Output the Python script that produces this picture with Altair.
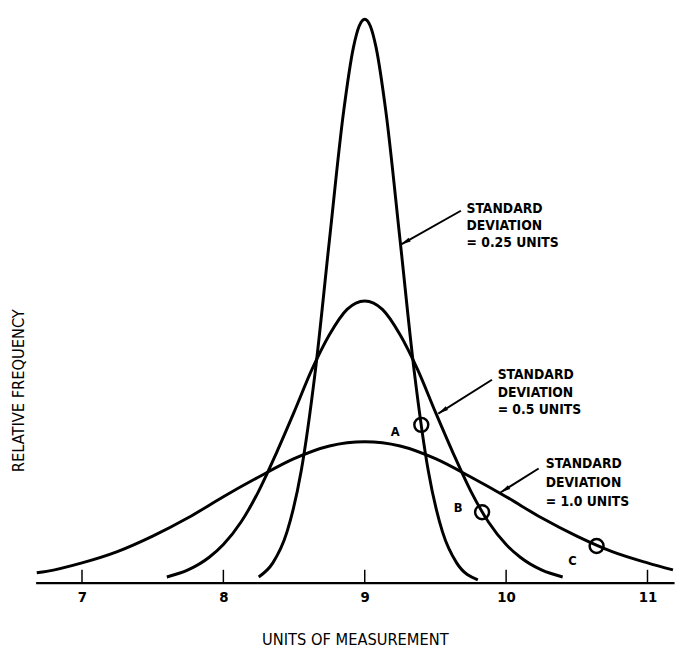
import math
import altair as alt
import pandas as pd

# ---- data (relative frequency, SD=1.0 peak = 1) ----
sd100_x = [6.68, 6.75, 7.0, 7.25, 7.5, 7.75, 8.0, 8.25, 8.5, 8.75, 9.0,
           9.25, 9.5, 9.75, 10.0, 10.25, 10.5, 10.75, 11.0, 11.18]
sd100_y = [0.07, 0.08, 0.14, 0.22, 0.33, 0.46, 0.61, 0.75, 0.88, 0.97, 1.00,
           0.97, 0.88, 0.75, 0.61, 0.46, 0.33, 0.22, 0.14, 0.09]

sd050_x = [7.6, 7.75, 7.9, 8.0, 8.125, 8.25, 8.375, 8.5, 8.625, 8.75, 8.875, 9.0,
           9.125, 9.25, 9.375, 9.5, 9.625, 9.75, 9.875, 10.0, 10.1, 10.25, 10.4]
sd050_y = [0.04, 0.09, 0.18, 0.27, 0.43, 0.65, 0.92, 1.21, 1.51, 1.76, 1.94, 2.00,
           1.94, 1.76, 1.51, 1.21, 0.92, 0.65, 0.43, 0.27, 0.18, 0.09, 0.04]

sd025_x = [8.25, 8.35, 8.45, 8.55, 8.65, 8.75, 8.85, 8.92, 8.96, 9.0,
           9.04, 9.08, 9.15, 9.25, 9.35, 9.45, 9.55, 9.65, 9.8]
sd025_y = [0.04, 0.14, 0.36, 0.79, 1.50, 2.43, 3.34, 3.80, 3.95, 4.00,
           3.95, 3.80, 3.34, 2.43, 1.50, 0.79, 0.36, 0.14, 0.02]

point_names = ["A", "B", "C"]
point_x = [9.40, 9.83, 10.64]
point_y = [1.12, 0.50, 0.26]

tick_values = [7, 8, 9, 10, 11]

label_lines = [["STANDARD", "DEVIATION", "= 0.25 UNITS"],
               ["STANDARD", "DEVIATION", "= 0.5 UNITS"],
               ["STANDARD", "DEVIATION", "= 1.0 UNITS"]]

# ---- layout ----
PLOT_W, PLOT_H = 647, 575
X_DOM = [6.672, 6.672 + PLOT_W / 143.27]
Y_DOM = [0, 4.028]
PX_X = PLOT_W / (X_DOM[1] - X_DOM[0])
PX_Y = PLOT_H / (Y_DOM[1] - Y_DOM[0])
FONT = "DejaVu Sans Condensed, DejaVu Sans"

# annotation placement (data units)
label_pos = [(9.72, [2.655, 2.532, 2.409]),
             (9.94, [1.471, 1.348, 1.226]),
             (10.28, [0.841, 0.708, 0.574])]
arrow_pos = [((9.68, 2.64), (9.255, 2.40)),
             ((9.90, 1.44), (9.52, 1.20)),
             ((10.23, 0.81), (9.96, 0.64))]
letter_pos = [(9.215, 1.07), (9.66, 0.53), (10.47, 0.15)]

curves = pd.concat([
    pd.DataFrame({"x": sd100_x, "y": sd100_y, "sd": "1.0"}),
    pd.DataFrame({"x": sd050_x, "y": sd050_y, "sd": "0.5"}),
    pd.DataFrame({"x": sd025_x, "y": sd025_y, "sd": "0.25"}),
])
points = pd.DataFrame({"name": point_names, "x": point_x, "y": point_y})
letters = pd.DataFrame({"name": point_names,
                        "x": [p[0] for p in letter_pos],
                        "y": [p[1] for p in letter_pos]})
ticks = pd.DataFrame({"x": tick_values})

txt_rows = []
for lines, (lx, lys) in zip(label_lines, label_pos):
    for t, ly in zip(lines, lys):
        txt_rows.append({"x": lx, "y": ly, "t": t})
texts = pd.DataFrame(txt_rows)

arr_rows = []
for (a, b) in arrow_pos:
    dx = (b[0] - a[0]) * PX_X
    dy = -(b[1] - a[1]) * PX_Y
    ang = math.degrees(math.atan2(dx, -dy)) % 360
    arr_rows.append({"x": a[0], "y": a[1], "x2": b[0], "y2": b[1], "ang": ang})
arrows = pd.DataFrame(arr_rows)

xscale = alt.Scale(domain=X_DOM, nice=False, zero=False)
yscale = alt.Scale(domain=Y_DOM, nice=False, zero=False)
xaxis = alt.Axis(values=tick_values, format="d", ticks=False, grid=False,
                 domainColor="black", domainWidth=2.5,
                 labelFont=FONT, labelFontSize=15, labelFontWeight="bold",
                 labelPadding=7, labelColor="black",
                 title="UNITS OF MEASUREMENT", titleFont=FONT, titleFontSize=16.5,
                 titleFontWeight="normal", titlePadding=28, titleColor="black")
yaxis = alt.Axis(labels=False, ticks=False, domain=False, grid=False,
                 title="RELATIVE FREQUENCY", titleFont=FONT, titleFontSize=16.5,
                 titleFontWeight="normal", titleColor="black",
                 titleX=-17, titleY=380, titleAngle=270,
                 titleAlign="center", titleBaseline="middle")


def X(f="x"):
    return alt.X(f"{f}:Q", scale=xscale, axis=xaxis)


def Y(f="y"):
    return alt.Y(f"{f}:Q", scale=yscale, axis=yaxis)


curve_layer = alt.Chart(curves).mark_line(
    color="black", strokeWidth=3, interpolate="monotone"
).encode(x=X(), y=Y(), detail="sd:N")

tick_layer = alt.Chart(ticks).mark_rule(color="black", strokeWidth=1.5).encode(
    x=X(), y=alt.value(PLOT_H - 13), y2=alt.value(PLOT_H)
)

circle_layer = alt.Chart(points).mark_point(
    shape="circle", filled=False, size=200, strokeWidth=2.5, color="black", opacity=1
).encode(x=X(), y=Y())

letter_layer = alt.Chart(letters).mark_text(
    font=FONT, fontSize=13, fontWeight="bold", color="black",
    align="center", baseline="middle"
).encode(x=X(), y=Y(), text="name:N")

text_layer = alt.Chart(texts).mark_text(
    font=FONT, fontSize=14, fontWeight="bold", color="black",
    align="left", baseline="middle"
).encode(x=X(), y=Y(), text="t:N")

arrow_line = alt.Chart(arrows).mark_rule(color="black", strokeWidth=2).encode(
    x=X(), y=Y(), x2="x2:Q", y2="y2:Q"
)

arrow_head = alt.Chart(arrows).mark_point(
    shape="M0,0L0.5,2.3L-0.5,2.3Z", filled=True, size=80, color="black", opacity=1
).encode(x=X("x2"), y=Y("y2"), angle=alt.Angle("ang:Q", scale=None))

chart = alt.layer(
    curve_layer, tick_layer, circle_layer, letter_layer, text_layer,
    arrow_line, arrow_head
).properties(
    width=PLOT_W, height=PLOT_H,
    padding={"left": 3, "top": 0, "right": 0, "bottom": 0}
).configure_view(stroke=None)

chart.save("out.html", embed_options={"renderer": "svg", "actions": False})
